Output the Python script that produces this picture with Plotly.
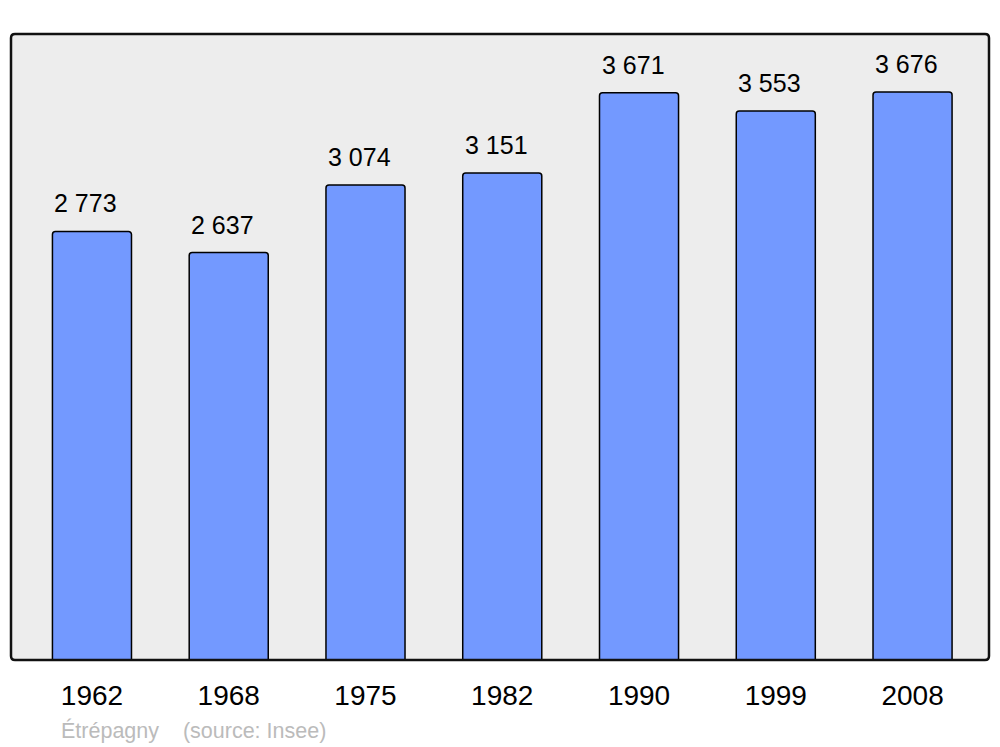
import plotly.graph_objects as go

years = ["1962", "1968", "1975", "1982", "1990", "1999", "2008"]
population = [2773, 2637, 3074, 3151, 3671, 3553, 3676]

x_pos = list(range(len(years)))
labels = [f"{v:,}".replace(",", " ") for v in population]

fig = go.Figure()
fig.add_trace(go.Bar(
    x=x_pos, y=population, width=0.578,
    marker=dict(color="#7399FF", line=dict(color="#000000", width=1.5), cornerradius=3),
    hoverinfo="skip",
))

for xi, v, t in zip(x_pos, population, labels):
    fig.add_annotation(x=xi, y=v, text=t, showarrow=False, yanchor="bottom",
                       yshift=12, xshift=-6,
                       font=dict(family="Liberation Sans", size=25, color="#000000"))

W, H = 1000, 747
l, r, t, b = 11, 11, 34, 87
pw, ph = W - l - r, H - t - b
rad = 4
rx, ry = rad / pw, rad / ph
path = (f"M {rx} 0 L {1-rx} 0 Q 1 0 1 {ry} L 1 {1-ry} Q 1 1 {1-rx} 1 "
        f"L {rx} 1 Q 0 1 0 {1-ry} L 0 {ry} Q 0 0 {rx} 0 Z")
fig.add_shape(type="path", xref="paper", yref="paper", path=path,
              line=dict(color="#111111", width=2.5), layer="above")

fig.add_annotation(xref="paper", yref="paper", x=(59 - l) / pw, y=-(730 - 660) / ph,
                   xanchor="left", yanchor="middle", showarrow=False,
                   text="Étrépagny\u00a0\u00a0\u00a0\u00a0(source: Insee)",
                   font=dict(family="Liberation Sans", size=21.5, color="#BBBBBB"))

fig.update_layout(
    width=W, height=H,
    margin=dict(l=l, r=r, t=t, b=b),
    paper_bgcolor="#FFFFFF", plot_bgcolor="#EDEDED",
    showlegend=False,
    xaxis=dict(range=[-0.592, 6.559], tickmode="array", tickvals=x_pos, ticktext=years,
               showgrid=False, zeroline=False, showline=False, ticks="",
               tickfont=dict(family="Liberation Sans", size=28, color="#000000"),
               ticklabelstandoff=16),
    yaxis=dict(range=[0, 4051], showgrid=False, zeroline=False, showticklabels=False,
               showline=False, ticks=""),
)

fig.write_html("out.html", config={"displayModeBar": False},
               post_script="document.body.style.margin='0';document.body.style.overflow='hidden';")
